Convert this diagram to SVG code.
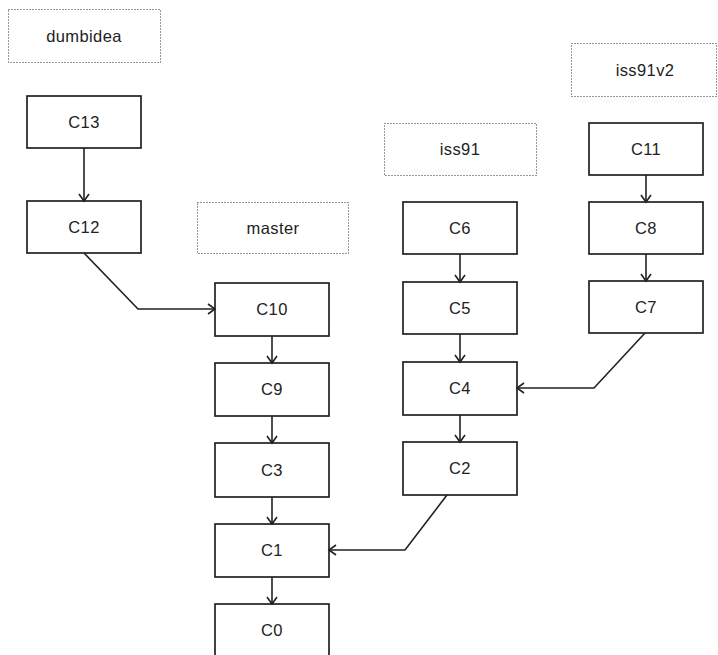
<svg xmlns="http://www.w3.org/2000/svg" width="718" height="655" viewBox="0 0 718 655">
<defs>
<marker id="arr" markerWidth="14" markerHeight="14" refX="10" refY="7" orient="auto" markerUnits="userSpaceOnUse">
<path d="M3,2 L10,7 L3,12" fill="none" stroke="#222" stroke-width="1.6"/>
</marker>
</defs>
<style>
.n{fill:#fff;stroke:#222;stroke-width:1.7}
.b{fill:#fff;stroke:#333;stroke-width:1;stroke-dasharray:1 2}
text{font-family:"Liberation Sans",Arial,sans-serif;font-size:16.5px;fill:#222;text-anchor:middle;letter-spacing:0.4px}
.c{fill:none;stroke:#222;stroke-width:1.6;marker-end:url(#arr)}
</style>
<rect width="718" height="655" fill="#fff"/>
<g id="dumbidea"><rect class="b" x="8.5" y="9.5" width="152" height="53"/><text x="84" y="42">dumbidea</text></g>
<g id="master"><rect class="b" x="197.5" y="202.5" width="151" height="51"/><text x="273" y="234">master</text></g>
<g id="iss91"><rect class="b" x="384.5" y="123.5" width="152" height="52"/><text x="460" y="155">iss91</text></g>
<g id="iss91v2"><rect class="b" x="571.5" y="43.5" width="145" height="53"/><text x="645" y="76">iss91v2</text></g>
<g id="C13"><rect class="n" x="27" y="96" width="114" height="52"/><text x="84" y="128">C13</text></g>
<g id="C12"><rect class="n" x="27" y="201" width="114" height="52"/><text x="84" y="233">C12</text></g>
<g id="C10"><rect class="n" x="215" y="283" width="114" height="53"/><text x="272" y="315">C10</text></g>
<g id="C9"><rect class="n" x="215" y="363" width="114" height="53"/><text x="272" y="395">C9</text></g>
<g id="C3"><rect class="n" x="215" y="443" width="114" height="54"/><text x="272" y="476">C3</text></g>
<g id="C1"><rect class="n" x="215" y="524" width="114" height="53"/><text x="272" y="556">C1</text></g>
<g id="C0"><rect class="n" x="215" y="604" width="114" height="53"/><text x="272" y="636">C0</text></g>
<g id="C6"><rect class="n" x="403" y="202" width="114" height="52"/><text x="460" y="234">C6</text></g>
<g id="C5"><rect class="n" x="403" y="282" width="114" height="52"/><text x="460" y="314">C5</text></g>
<g id="C4"><rect class="n" x="403" y="362" width="114" height="53"/><text x="460" y="394">C4</text></g>
<g id="C2"><rect class="n" x="403" y="442" width="114" height="53"/><text x="460" y="474">C2</text></g>
<g id="C11"><rect class="n" x="589" y="123" width="114" height="52"/><text x="646" y="155">C11</text></g>
<g id="C8"><rect class="n" x="589" y="202" width="114" height="52"/><text x="646" y="234">C8</text></g>
<g id="C7"><rect class="n" x="589" y="281" width="114" height="52"/><text x="646" y="313">C7</text></g>
<g id="connectors">
<path class="c" d="M84,148 L84,201"/>
<path class="c" d="M84,253 L138,309 L215,309"/>
<path class="c" d="M272,336 L272,363"/>
<path class="c" d="M272,416 L272,443"/>
<path class="c" d="M272,497 L272,524"/>
<path class="c" d="M272,577 L272,604"/>
<path class="c" d="M460,254 L460,282"/>
<path class="c" d="M460,334 L460,362"/>
<path class="c" d="M460,415 L460,442"/>
<path class="c" d="M447,495 L405,550 L329,550"/>
<path class="c" d="M646,175 L646,202"/>
<path class="c" d="M646,254 L646,281"/>
<path class="c" d="M645,333 L594,388 L517,388"/>
</g>
</svg>
